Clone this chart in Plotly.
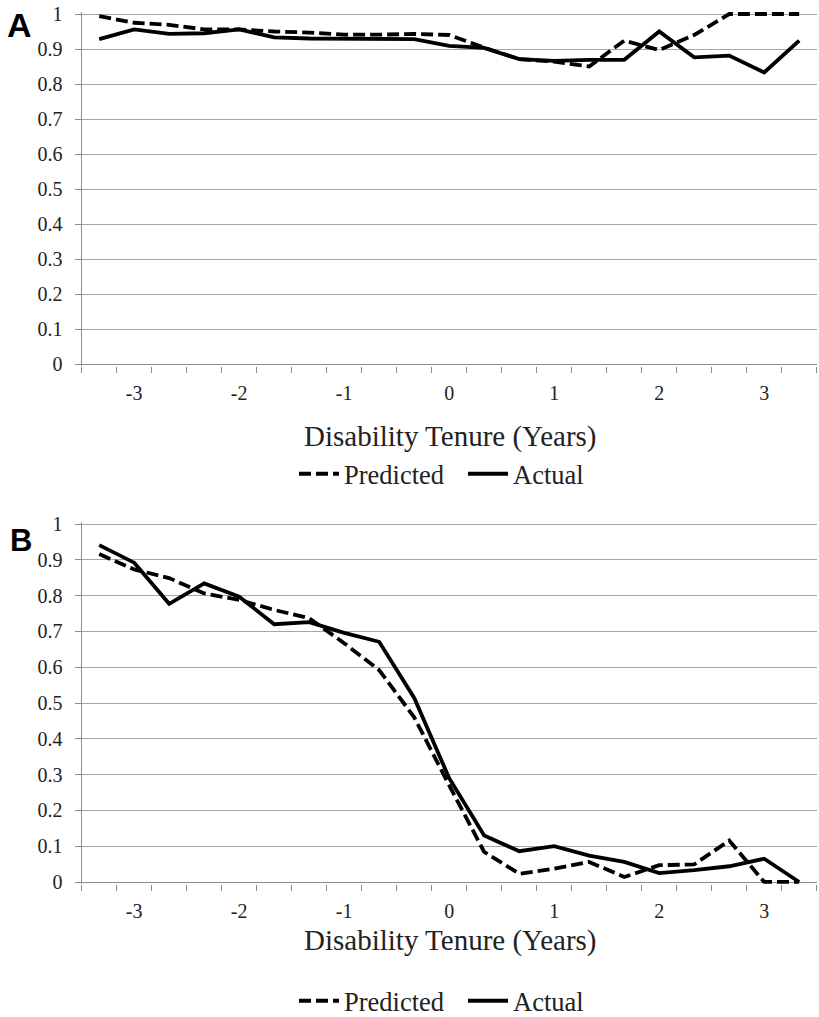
import plotly.graph_objects as go

# Disability tenure in years (categories every 4 months)
tenure = [-3.333, -3.0, -2.667, -2.333, -2.0, -1.667, -1.333, -1.0, -0.667, -0.333,
          0.0, 0.333, 0.667, 1.0, 1.333, 1.667, 2.0, 2.333, 2.667, 3.0, 3.333]
tick_years = [-3, -2, -1, 0, 1, 2, 3]
tick_labels = ["-3", "-2", "-1", "0", "1", "2", "3"]

# Panel A
a_predicted = [0.994, 0.975, 0.969, 0.956, 0.956, 0.950, 0.947, 0.941, 0.941, 0.943,
               0.940, 0.904, 0.871, 0.864, 0.850, 0.924, 0.897, 0.940, 1.0, 1.0, 1.0]
a_actual = [0.928, 0.956, 0.943, 0.945, 0.956, 0.933, 0.930, 0.930, 0.930, 0.928,
            0.909, 0.903, 0.871, 0.866, 0.869, 0.869, 0.950, 0.876, 0.881, 0.833, 0.924]

# Panel B
b_predicted = [0.916, 0.873, 0.849, 0.806, 0.788, 0.760, 0.737, 0.667, 0.592, 0.460,
               0.270, 0.084, 0.023, 0.037, 0.056, 0.014, 0.047, 0.049, 0.116, 0.0, 0.0]
b_actual = [0.941, 0.892, 0.777, 0.834, 0.797, 0.720, 0.726, 0.696, 0.671, 0.514,
            0.290, 0.130, 0.086, 0.100, 0.074, 0.056, 0.025, 0.033, 0.044, 0.065, 0.0]

W, H = 819, 1017
SERIF = "Liberation Serif, Times New Roman, serif"
GRID = "#a6a6a6"
AX = "#8c8c8c"
LW = 3.8
DASH = "12px,5px"


def py(p):
    return 1 - p / H


fig = go.Figure()

fig.add_trace(go.Scatter(x=tenure, y=a_predicted, mode="lines", name="Predicted",
                         line=dict(color="black", width=LW, dash=DASH),
                         xaxis="x", yaxis="y", legend="legend"))
fig.add_trace(go.Scatter(x=tenure, y=a_actual, mode="lines", name="Actual",
                         line=dict(color="black", width=LW),
                         xaxis="x", yaxis="y", legend="legend"))
fig.add_trace(go.Scatter(x=tenure, y=b_predicted, mode="lines", name="Predicted",
                         line=dict(color="black", width=LW, dash=DASH),
                         xaxis="x2", yaxis="y2", legend="legend2"))
fig.add_trace(go.Scatter(x=tenure, y=b_actual, mode="lines", name="Actual",
                         line=dict(color="black", width=LW),
                         xaxis="x2", yaxis="y2", legend="legend2"))

xdom = [81.7 / W, 816.7 / W]
yr = [-0.005, 1.006]


def xaxis_cfg(anchor):
    return dict(domain=xdom, range=[-3.5, 3.5], anchor=anchor, automargin=False,
                tickmode="array", tickvals=tick_years, ticktext=tick_labels,
                ticks="", showgrid=False, zeroline=False, showline=False,
                tickfont=dict(family=SERIF, size=20, color="#222"),
                ticklabelstandoff=13,
                minor=dict(tick0=-3.5, dtick=1 / 3, ticks="outside", ticklen=6,
                           tickcolor=AX, tickwidth=1.3, showgrid=False),
                fixedrange=True)


def yaxis_cfg(anchor, dom):
    return dict(domain=dom, range=yr, anchor=anchor, dtick=0.1, tick0=0, automargin=False,
                showgrid=True, gridcolor=GRID, gridwidth=1.3,
                zeroline=True, zerolinecolor=AX, zerolinewidth=1.3,
                showline=True, linecolor=AX, linewidth=1.3,
                ticks="outside", ticklen=6, tickcolor=AX, tickwidth=1.3,
                tickfont=dict(family=SERIF, size=20, color="#222"),
                ticklabelstandoff=8, fixedrange=True)


legend_font = dict(family=SERIF, size=26.5, color="#222")
legend_common = dict(orientation="h", xanchor="center", yanchor="middle",
                     font=legend_font, bgcolor="rgba(0,0,0,0)",
                     itemwidth=40, tracegroupgap=0,
                     entrywidth=114, entrywidthmode="pixels")

fig.update_layout(
    width=W, height=H,
    margin=dict(l=0, r=0, t=0, b=0, autoexpand=False),
    paper_bgcolor="white", plot_bgcolor="white",
    xaxis=xaxis_cfg("y"),
    yaxis=yaxis_cfg("x", [py(365.75), py(11.9)]),
    xaxis2=xaxis_cfg("y2"),
    yaxis2=yaxis_cfg("x2", [py(883.8), py(521.85)]),
    legend=dict(x=463 / W, y=py(474), **legend_common),
    legend2=dict(x=463 / W, y=py(1001), **legend_common),
    showlegend=True,
    annotations=[
        dict(text="Disability Tenure (Years)", x=450 / W, y=py(436), xref="paper", yref="paper",
             xanchor="center", yanchor="middle", showarrow=False,
             font=dict(family=SERIF, size=29, color="#222")),
        dict(text="Disability Tenure (Years)", x=450 / W, y=py(940), xref="paper", yref="paper",
             xanchor="center", yanchor="middle", showarrow=False,
             font=dict(family=SERIF, size=29, color="#222")),
        dict(text="<b>A</b>", x=19 / W, y=py(25), xref="paper", yref="paper",
             xanchor="center", yanchor="middle", showarrow=False,
             font=dict(family="Liberation Sans, Arial, sans-serif", size=34, color="black")),
        dict(text="<b>B</b>", x=21 / W, y=py(540), xref="paper", yref="paper",
             xanchor="center", yanchor="middle", showarrow=False,
             font=dict(family="Liberation Sans, Arial, sans-serif", size=31, color="black")),
    ],
)

fig.write_html("out.html")
